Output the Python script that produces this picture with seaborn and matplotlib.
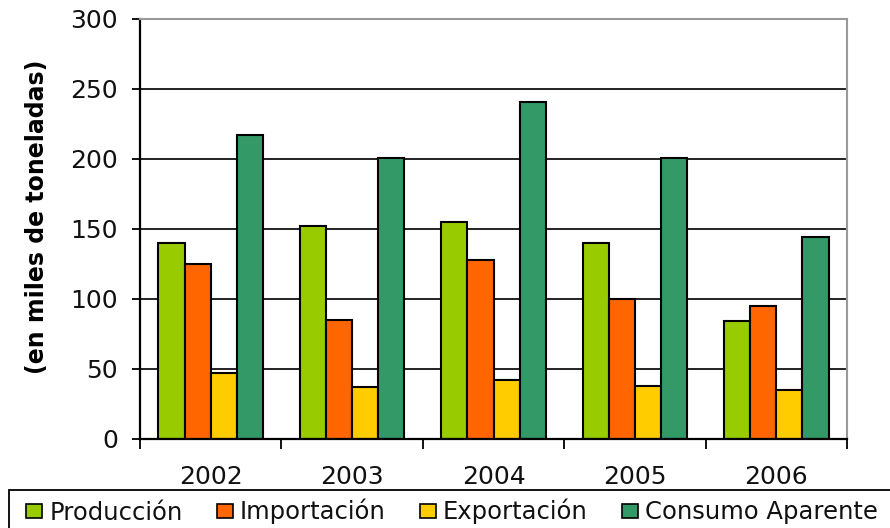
import matplotlib
matplotlib.use("Agg")
import matplotlib.pyplot as plt
import seaborn as sns
import pandas as pd
import numpy as np

years = ["2002", "2003", "2004", "2005", "2006"]
series_names = ["Producción", "Importación", "Exportación", "Consumo Aparente"]
produccion = [140, 152, 155, 140, 84]
importacion = [125, 85, 128, 100, 95]
exportacion = [47, 37, 42, 38, 35]
consumo = [217, 201, 241, 201, 144]
colors = ["#99CC00", "#FF6600", "#FFCC00", "#339966"]
yticks = [0, 50, 100, 150, 200, 250, 300]

sns.set_theme(style="white")
plt.rcParams['font.family'] = ['DejaVu Sans']

rows = []
for name, vals in zip(series_names, [produccion, importacion, exportacion, consumo]):
    for y, v in zip(years, vals):
        rows.append({"Año": y, "Serie": name, "Valor": v})
df = pd.DataFrame(rows)

fig = plt.figure(figsize=(8.9, 5.28), dpi=100)
ax = fig.add_axes([140/890, 1-439/528, 707/890, 420/528])

sns.barplot(data=df, x="Año", y="Valor", hue="Serie", hue_order=series_names,
            palette=colors, width=0.74, gap=0, edgecolor="black", linewidth=1.5,
            saturation=1, ax=ax, legend=True, errorbar=None)

ax.set_ylim(0, 300)
ax.set_xlim(-0.5, 4.5)
ax.set_yticks(yticks)
ax.set_yticklabels([str(t) for t in yticks], fontsize=18, color="#111")
ax.yaxis.grid(True, color="#222", linewidth=1.4)
ax.set_axisbelow(True)
ax.tick_params(axis="y", length=6, width=1.3, color="black", direction="out", left=True, pad=10)
ax.set_xticks(range(len(years)))
ax.set_xticklabels(years, fontsize=18, color="#111")
ax.tick_params(axis="x", which="major", length=0, pad=19)
ax.set_xticks(np.arange(-0.5, 5, 1), minor=True)
ax.tick_params(axis="x", which="minor", length=7, width=1.3, color="black", direction="out", bottom=True)
ax.set_xlabel("")
ax.set_ylabel("(en miles de toneladas)", fontsize=17, fontweight="bold", color="black")
ax.yaxis.set_label_coords((49-140)/707, (439-217)/420)

for s in ["left", "bottom"]:
    ax.spines[s].set_color("black")
    ax.spines[s].set_linewidth(1.6)
for s in ["top", "right"]:
    ax.spines[s].set_color("#999999")
    ax.spines[s].set_linewidth(1.5)

ax.get_legend().remove()

# legend frame (extends past the figure's right and bottom edges, as in the reference)
frame = plt.Rectangle((9/890, -10/528), 900/890, (10 + 528 - 490)/528,
                      transform=fig.transFigure, facecolor="white",
                      edgecolor="black", linewidth=1.3, zorder=0)
fig.patches.append(frame)

handles = [plt.Rectangle((0, 0), 1, 1, facecolor=c, edgecolor="black", linewidth=1.2) for c in colors]
leg = fig.legend(handles, series_names, loc="upper left",
                 bbox_to_anchor=(26/890, 1-499/528),
                 ncol=4, frameon=False,
                 prop={"size": 17.5}, labelcolor="#111",
                 handlelength=0.66, handleheight=0.55, handletextpad=0.3,
                 columnspacing=1.4, borderaxespad=0, borderpad=0)

fig.savefig("out.png", dpi=100)
